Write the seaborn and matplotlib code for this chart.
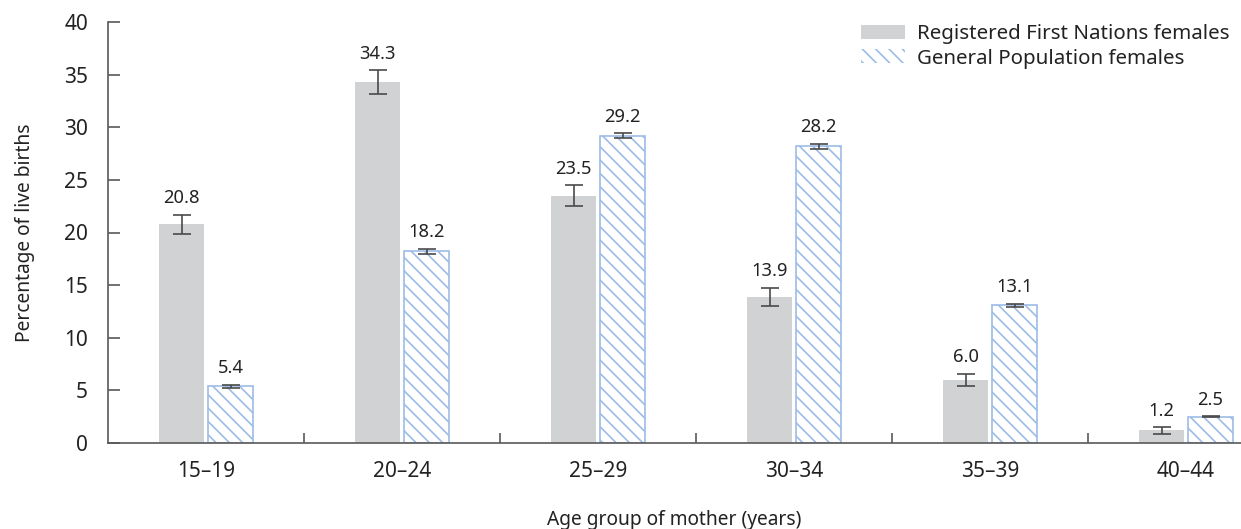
import matplotlib
matplotlib.use("Agg")
import matplotlib.pyplot as plt
from matplotlib.patches import Patch
import seaborn as sns
import pandas as pd
import numpy as np

# Share of live births by mother's age group
age_groups = ["15–19", "20–24", "25–29", "30–34", "35–39", "40–44"]
series_names = ["Registered First Nations females", "General Population females"]
first_nations = [20.8, 34.3, 23.5, 13.9, 6.0, 1.2]
first_nations_err = [0.9, 1.1, 1.0, 0.85, 0.6, 0.3]
general_pop = [5.4, 18.2, 29.2, 28.2, 13.1, 2.5]
general_pop_err = [0.15, 0.27, 0.25, 0.25, 0.15, 0.06]
y_ticks = [0, 5, 10, 15, 20, 25, 30, 35, 40]

GREY = "#D1D2D4"
BLUE = "#9DBCE8"
AXIS = "#595959"
TEXT = "#222222"
HATCH = "\\\\\\"

sns.set_style("white")
plt.rcParams["font.family"] = ["Noto Sans", "DejaVu Sans"]
plt.rcParams["hatch.linewidth"] = 1.0

df = pd.DataFrame({
    "age": age_groups * 2,
    "value": first_nations + general_pop,
    "series": [series_names[0]] * len(age_groups) + [series_names[1]] * len(age_groups),
})

fig = plt.figure(figsize=(1241 / 120, 529 / 120), dpi=120)
ax = fig.add_axes([108 / 1241, 1 - 443 / 529, 1 - 108 / 1241, (443 - 22) / 529])

sns.barplot(data=df, x="age", y="value", hue="series", order=age_groups,
            hue_order=series_names, palette=[GREY, "white"], width=0.5, gap=0.1,
            errorbar=None, legend=False, ax=ax, linewidth=0, saturation=1)

# Style the general-population bars with a diagonal hatch
n = len(age_groups)
bars = list(ax.patches)
for p in bars[n:2 * n]:
    p.set_facecolor("white")
    p.set_edgecolor(BLUE)
    p.set_hatch(HATCH)
    p.set_linewidth(1.0)

# Error bars and value labels
for series_idx, (vals, errs) in enumerate([(first_nations, first_nations_err),
                                           (general_pop, general_pop_err)]):
    for i, (v, e) in enumerate(zip(vals, errs)):
        p = bars[series_idx * n + i]
        cx = p.get_x() + p.get_width() / 2
        ax.errorbar(cx, v, yerr=e, fmt="none", ecolor="#4a4a4a",
                    elinewidth=1.0, capsize=5.5, capthick=1.0, zorder=5)
        ax.annotate(f"{v:.1f}", (cx, v + e), xytext=(0, 4.5),
                    textcoords="offset points", ha="center", va="bottom",
                    fontsize=11, color=TEXT)

ax.set_ylim(0, 40)
ax.set_xlim(-0.5, -0.5 + (1241 - 108) / 196)
ax.set_yticks(y_ticks)
ax.set_yticklabels([str(t) for t in y_ticks])

ax.set_xticks(range(n))
ax.set_xticklabels(age_groups)
ax.set_xticks(np.arange(n - 1) + 0.5, minor=True)
ax.tick_params(axis="x", which="major", length=0, pad=11, labelsize=12.5, colors=TEXT)
ax.tick_params(axis="x", which="minor", direction="in", length=6,
               width=1.0, color=AXIS, bottom=True)
ax.tick_params(axis="y", which="major", direction="in", length=7, width=1.0,
               color=AXIS, pad=12, labelsize=12.5, labelcolor=TEXT, left=True)

for side in ["top", "right"]:
    ax.spines[side].set_visible(False)
for side in ["left", "bottom"]:
    ax.spines[side].set_color(AXIS)
    ax.spines[side].set_linewidth(1.0)

ax.set_xlabel("Age group of mother (years)", fontsize=11.5, color=TEXT)
ax.set_ylabel("Percentage of live births", fontsize=11.5, color=TEXT)
ax.xaxis.set_label_coords(0.5, -0.16)
ax.yaxis.set_label_coords(-0.064, 0.5)

handles = [Patch(facecolor=GREY, edgecolor=GREY, linewidth=0),
           Patch(facecolor="white", edgecolor=BLUE, hatch=HATCH, linewidth=0)]
fig.legend(handles, series_names, loc="upper left",
           bbox_to_anchor=(861 / 1241, 1 - 24 / 529), frameon=False,
           fontsize=12.3, handlelength=2.15, handleheight=0.65, handletextpad=0.6,
           labelspacing=0.22, borderpad=0, borderaxespad=0, labelcolor=TEXT)

fig.savefig("out.png", dpi=120)
